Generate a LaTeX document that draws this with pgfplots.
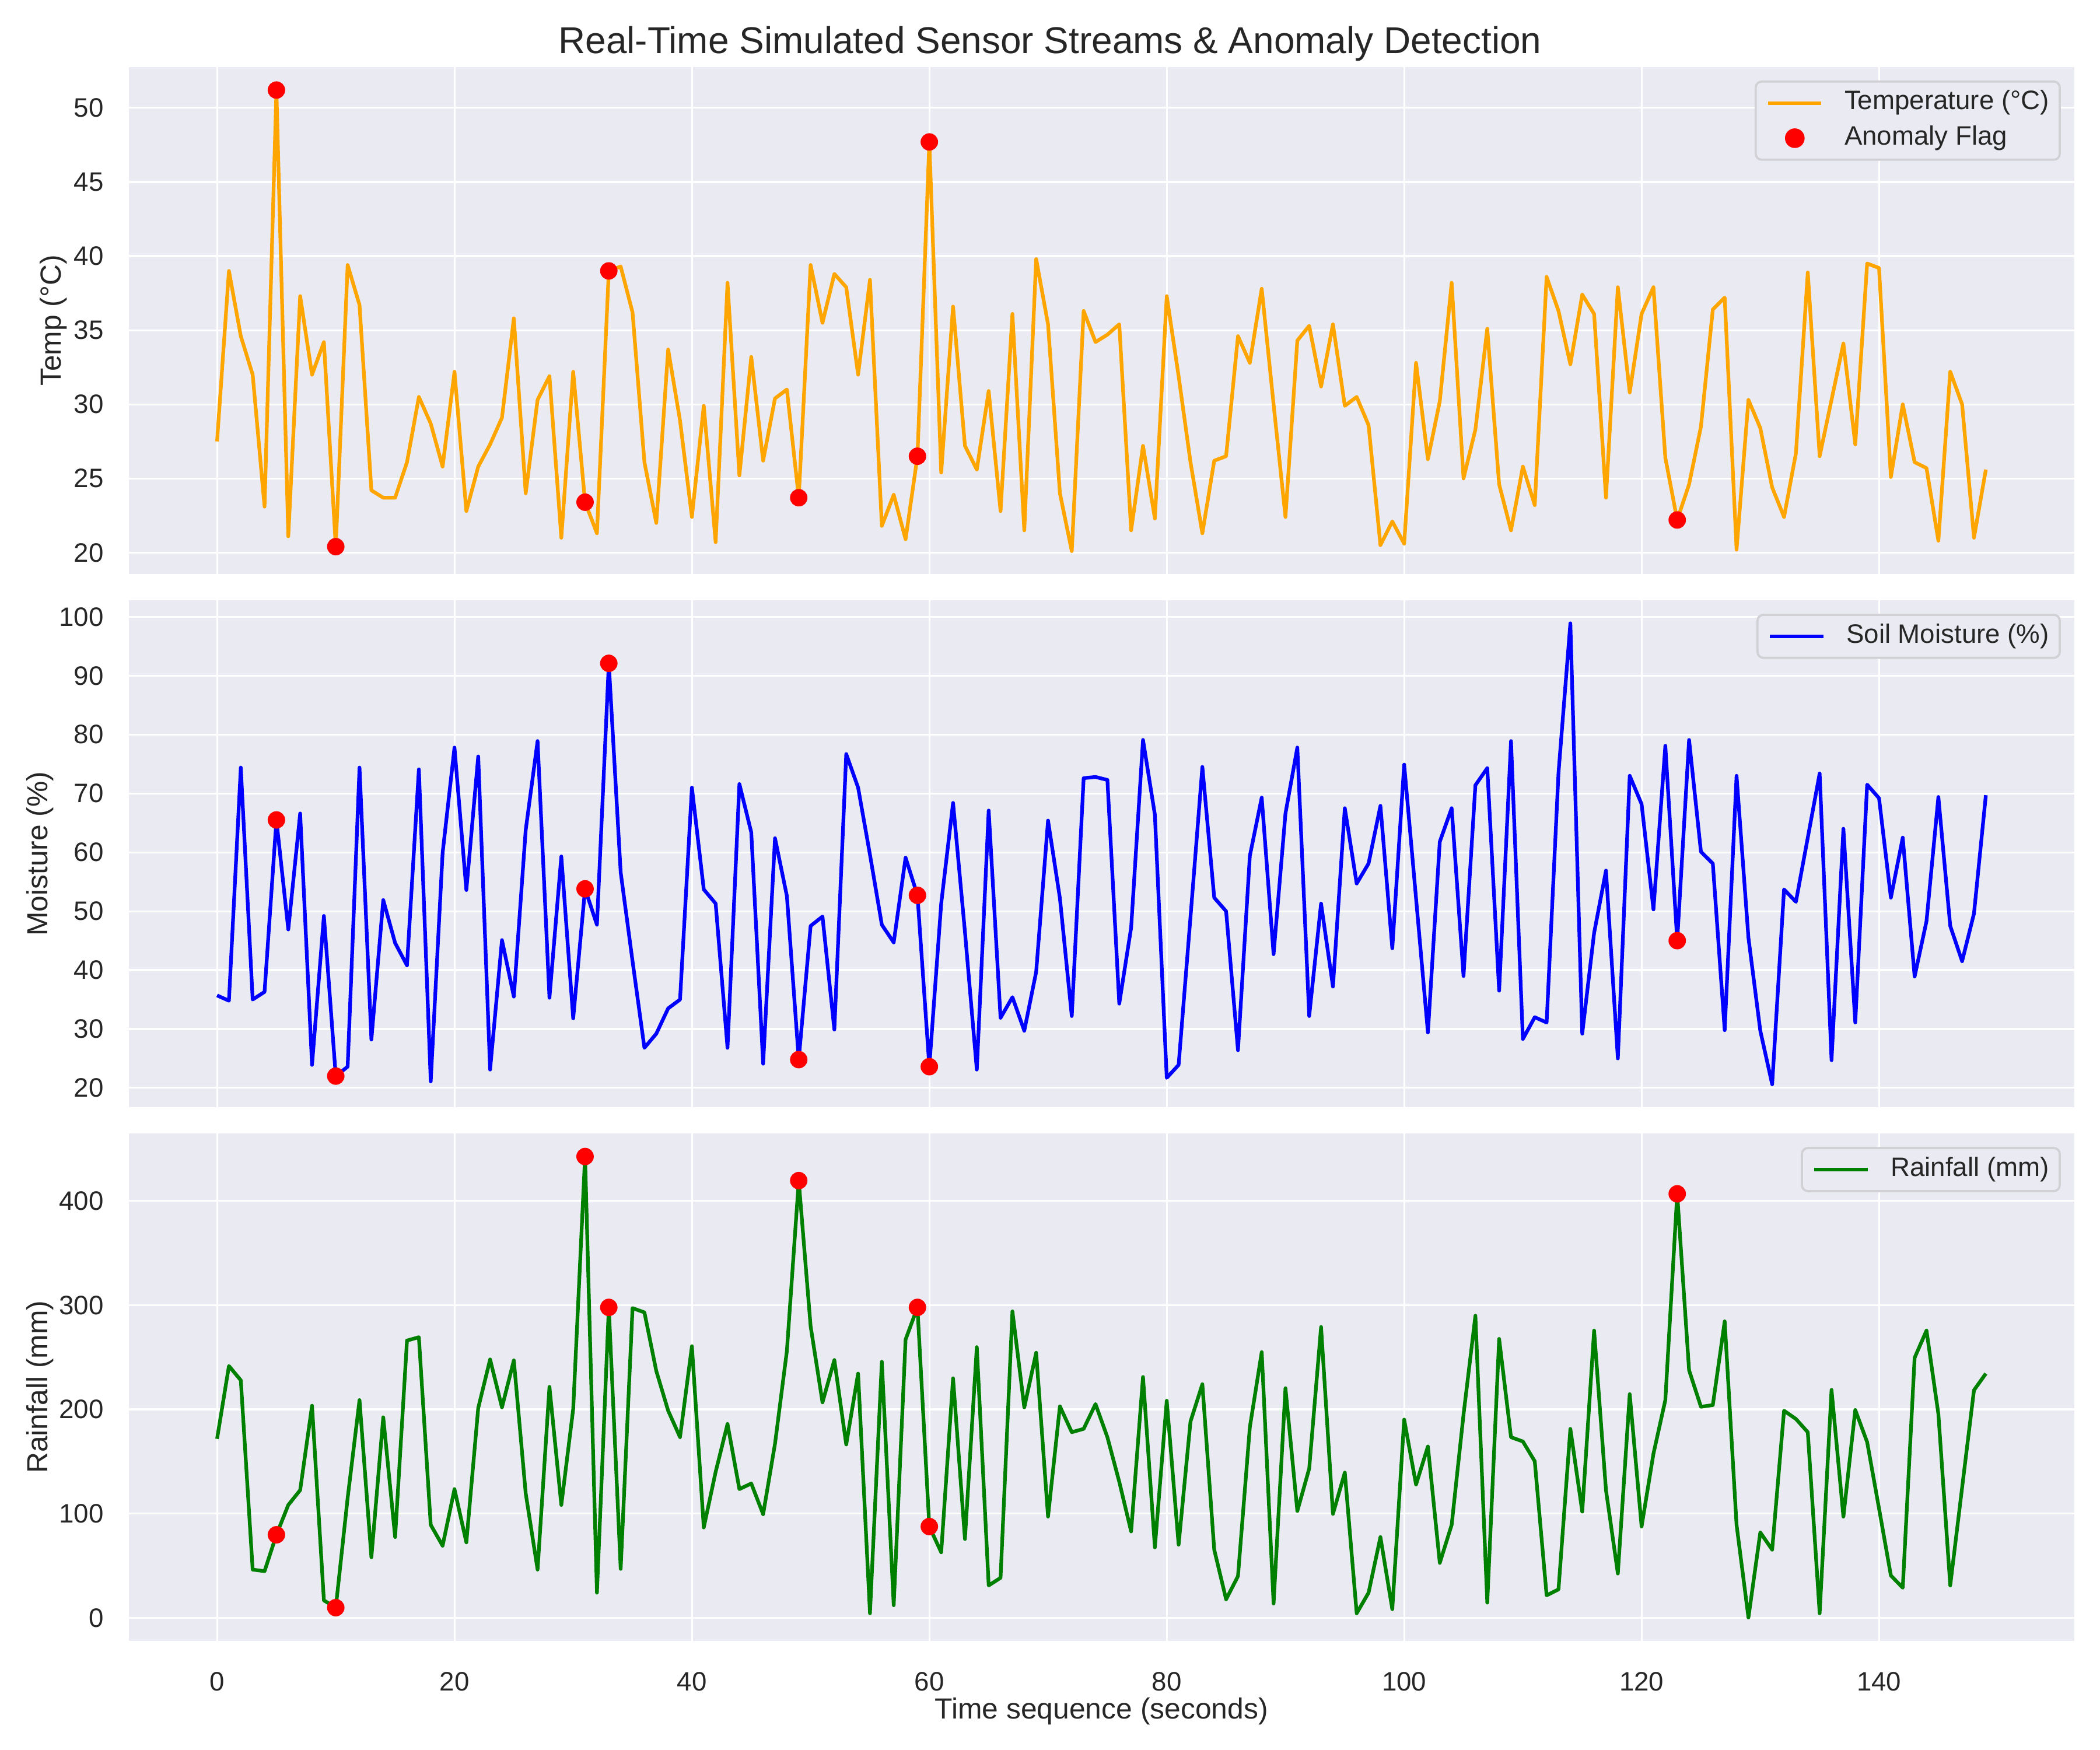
\documentclass[border=0pt]{standalone}
\usepackage{fontspec}
\setmainfont{Liberation Sans}
\usepackage{pgfplots}
\usepackage{pgfplotstable}
\pgfplotsset{compat=1.18}

\definecolor{panelbg}{HTML}{EAEAF2}
\definecolor{inktext}{HTML}{262626}
\definecolor{legedge}{HTML}{D1D1D5}
\definecolor{tempcol}{HTML}{FFA500}
\definecolor{moistcol}{HTML}{0000FF}
\definecolor{raincol}{HTML}{008000}
\definecolor{flagcol}{HTML}{FF0000}

% One row per second: temperature, soil moisture, rainfall
\pgfplotstableread{
t temp moist rain
0 27.5 35.7 171.7
1 39.0 34.8 241.6
2 34.6 74.4 227.9
3 32.0 35.0 46.3
4 23.1 36.3 44.8
5 51.2 65.5 79.7
6 21.1 46.9 108.3
7 37.3 66.6 122.5
8 32.0 23.9 203.5
9 34.2 49.2 16.8
10 20.4 22.0 9.8
11 39.4 23.6 115.0
12 36.7 74.4 208.9
13 24.2 28.2 58.1
14 23.7 51.9 192.4
15 23.7 44.6 77.5
16 26.1 40.8 266.0
17 30.5 74.1 269.2
18 28.7 21.1 89.2
19 25.8 59.9 69.2
20 32.2 77.8 123.5
21 22.8 53.6 72.4
22 25.8 76.3 201.3
23 27.3 23.1 247.9
24 29.1 45.1 201.9
25 35.8 35.5 247.0
26 24.0 63.8 119.4
27 30.3 78.9 46.3
28 31.9 35.3 221.6
29 21.0 59.3 108.3
30 32.2 31.8 200.3
31 23.4 53.8 442.5
32 21.3 47.7 24.1
33 39.0 92.1 297.8
34 39.3 56.6 47.0
35 36.2 41.5 297.1
36 26.1 26.8 293.0
37 22.0 29.2 236.8
38 33.7 33.5 198.7
39 28.9 35.0 173.3
40 22.4 71.0 260.6
41 29.9 53.7 86.7
42 20.7 51.3 140.0
43 38.2 26.8 186.0
44 25.2 71.6 123.5
45 33.2 63.4 128.9
46 26.2 24.1 99.4
47 30.4 62.4 167.0
48 31.0 52.6 255.9
49 23.7 24.8 419.4
50 39.4 47.5 279.7
51 35.5 49.1 206.7
52 38.8 29.9 247.3
53 37.9 76.7 166.3
54 32.0 71.0 234.3
55 38.4 59.6 4.4
56 21.8 47.7 245.7
57 23.9 44.7 12.1
58 20.9 59.1 267.0
59 26.5 52.7 297.8
60 47.7 23.6 87.6
61 25.4 51.3 62.9
62 36.6 68.4 229.8
63 27.2 46.5 75.6
64 25.6 23.1 259.7
65 30.9 67.1 31.1
66 22.8 31.9 38.4
67 36.1 35.4 294.0
68 21.5 29.7 201.9
69 39.8 39.7 254.3
70 35.4 65.4 97.1
71 24.0 52.2 202.9
72 20.1 32.2 178.1
73 36.3 72.6 181.3
74 34.2 72.8 205.1
75 34.7 72.3 173.3
76 35.4 34.3 130.5
77 21.5 47.2 82.9
78 27.2 79.1 231.1
79 22.3 66.4 67.6
80 37.3 21.7 208.3
81 31.9 23.9 70.2
82 26.1 49.0 188.3
83 21.3 74.5 224.1
84 26.2 52.3 65.4
85 26.5 50.0 17.8
86 34.6 26.4 40.0
87 32.8 59.4 182.9
88 37.8 69.3 254.9
89 30.0 42.7 13.7
90 22.4 66.6 220.3
91 34.3 77.8 102.5
92 35.3 32.2 143.2
93 31.2 51.3 279.0
94 35.4 37.2 99.7
95 29.9 67.5 139.4
96 30.5 54.7 4.4
97 28.6 58.1 24.1
98 20.5 67.9 77.5
99 22.1 43.7 8.3
100 20.6 74.9 190.2
101 32.8 52.2 127.9
102 26.3 29.4 164.4
103 30.2 61.8 52.7
104 38.2 67.5 89.2
105 25.0 39.0 195.0
106 28.3 71.4 289.8
107 35.1 74.3 14.6
108 24.6 36.5 267.6
109 21.5 78.9 173.3
110 25.8 28.3 169.2
111 23.2 32.0 150.2
112 38.6 31.1 21.6
113 36.3 73.5 27.3
114 32.7 98.9 181.3
115 37.4 29.2 101.9
116 36.1 46.3 275.6
117 23.7 56.9 122.5
118 37.9 25.0 42.5
119 30.8 73.0 214.6
120 36.1 68.2 87.6
121 37.9 50.3 157.5
122 26.4 78.1 208.9
123 22.2 45.0 406.7
124 24.6 79.1 237.5
125 28.5 60.1 202.5
126 36.4 58.1 204.1
127 37.2 29.8 284.4
128 20.2 73.0 89.2
129 30.3 45.5 0.3
130 28.4 29.7 81.9
131 24.4 20.6 65.4
132 22.4 53.7 198.7
133 26.7 51.6 190.8
134 38.9 62.5 178.1
135 26.5 73.4 4.4
136 30.3 24.7 218.7
137 34.1 64.0 97.1
138 27.3 31.1 199.4
139 39.5 71.5 168.6
140 39.2 69.2 105.0
141 25.1 52.3 40.6
142 30.0 62.5 28.9
143 26.1 38.9 249.5
144 25.7 48.3 275.6
145 20.8 69.4 195.6
146 32.2 47.5 31.1
147 30.0 41.5 125.0
148 21.0 49.6 218.4
149 25.6 69.7 234.3
}\sensordata

% Seconds flagged as anomalous, with the readings at those seconds
\pgfplotstableread{
t temp moist rain
5 51.2 65.5 79.7
10 20.4 22.0 9.8
31 23.4 53.8 442.5
33 39.0 92.1 297.8
49 23.7 24.8 419.4
59 26.5 52.7 297.8
60 47.7 23.6 87.6
123 22.2 45.0 406.7
}\flagdata

\pgfplotsset{
  panel/.style={
    scale only axis, width=11.118in, height=2.898in,
    xmin=-7.45, xmax=156.45,
    xtick={0,20,...,140},
    axis background/.style={fill=panelbg},
    axis line style={draw=none},
    tick style={draw=none},
    grid=major,
    major grid style={draw=white, line width=0.75pt},
    ticklabel style={font=\fontsize{11}{13}\selectfont, text=inktext},
    yticklabel style={xshift=-6.8pt},
    xticklabel style={yshift=-9.5pt},
    /pgf/number format/assume math mode=true,
    ylabel style={font=\fontsize{12}{14}\selectfont, text=inktext,
      at={(rel axis cs:0,0.5)}, anchor=south, inner sep=0pt},
    legend image code/.code={\draw[#1] (0pt,0pt) -- (22pt,0pt);},
    legend cell align=left,
    legend style={at={(rel axis cs:0.9931,0.9735)}, anchor=north east,
      fill=panelbg, draw=legedge, line width=0.9pt, rounded corners=2.5pt,
      font=\fontsize{11}{13}\selectfont, text=inktext,
      inner xsep=4.4pt, inner ysep=4.4pt, row sep=5.5pt,
      nodes={inner sep=0pt, text height=7.2pt, text depth=1.8pt},
      /tikz/every odd column/.append style={column sep=8.8pt}},
  },
  series/.style={line width=1.5pt, line join=round},
  flag/.style={only marks, mark=*, mark size=3.4pt, color=flagcol,
    mark options={fill=flagcol, draw=flagcol, line width=0.4pt}},
}

\begin{document}
\begin{tikzpicture}
\path[use as bounding box] (0,0) rectangle (12in,10in);

% Temperature
\begin{axis}[panel, at={(0.735in,6.719in)}, anchor=south west,
  ymin=18.545, ymax=52.755, ytick={20,25,...,50}, xticklabels={},
  ylabel={Temp (°C)}, ylabel style={yshift=25.2pt}]
\addplot[series, tempcol] table[x=t, y=temp] {\sensordata};
\addlegendentry{Temperature (°C)}
\addplot[flag, legend image code/.code={%
    \draw[draw=none, fill=none] (0pt,0pt) -- (22pt,0pt);
    \fill[flagcol] (11pt,0pt) circle[radius=3.6pt];}]
  table[x=t, y=temp] {\flagdata};
\addlegendentry{Anomaly Flag}
\end{axis}

% Soil moisture
\begin{axis}[panel, at={(0.735in,3.672in)}, anchor=south west,
  ymin=16.685, ymax=102.815, ytick={20,30,...,100}, xticklabels={},
  ylabel={Moisture (\%)}, ylabel style={yshift=30.7pt}]
\addplot[series, moistcol] table[x=t, y=moist] {\sensordata};
\addlegendentry{Soil Moisture (\%)}
\addplot[flag, forget plot] table[x=t, y=moist] {\flagdata};
\end{axis}

% Rainfall
\begin{axis}[panel, at={(0.735in,0.625in)}, anchor=south west,
  ymin=-21.81, ymax=464.61, ytick={0,100,...,400},
  ylabel={Rainfall (mm)}, ylabel style={yshift=30.7pt},
  xlabel={Time sequence (seconds)},
  xlabel style={font=\fontsize{12}{14}\selectfont, text=inktext,
    at={(rel axis cs:0.5,0)}, anchor=north, inner sep=0pt, yshift=-23.5pt}]
\addplot[series, raincol] table[x=t, y=rain] {\sensordata};
\addlegendentry{Rainfall (mm)}
\addplot[flag, forget plot] table[x=t, y=rain] {\flagdata};
\end{axis}

\node[anchor=base, font=\fontsize{15.4}{18}\selectfont, text=inktext, inner sep=0pt]
  at (6in,9.694in) {Real-Time Simulated Sensor Streams \& Anomaly Detection};
\end{tikzpicture}
\end{document}
